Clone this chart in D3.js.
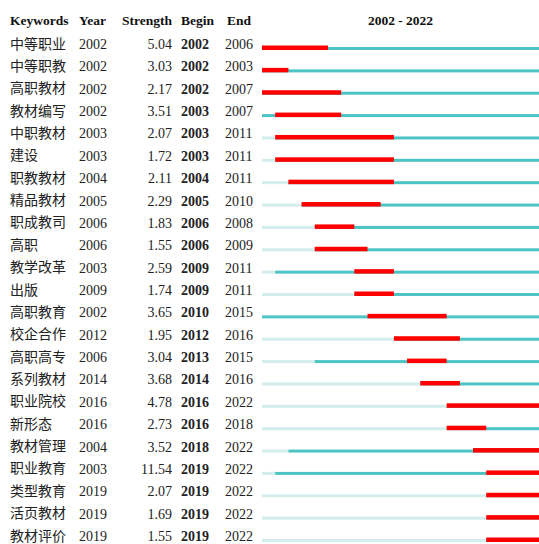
<!DOCTYPE html>
<html>
<head>
    <meta charset="utf-8">
    <style>
        body { margin: 0; background: #fff; }
        svg { display: block; }
        .hd { font-family: 'Liberation Serif', 'Times New Roman', serif; font-weight: bold; font-size: 13.5px; fill: #111; }
        .num { font-family: 'Liberation Serif', 'Times New Roman', serif; font-size: 14px; fill: #222; }
        .kw { font-family: 'Noto Sans CJK SC', sans-serif; font-size: 14px; fill: #222; }
    </style>
</head>
<body>
<svg width="539" height="544"></svg>

<script src="https://d3js.org/d3.v7.min.js"></script>
<script>
    // burst table
    let keywords = ["中等职业", "中等职教", "高职教材", "教材编写", "中职教材", "建设", "职教教材", "精品教材",
        "职成教司", "高职", "教学改革", "出版", "高职教育", "校企合作", "高职高专", "系列教材",
        "职业院校", "新形态", "教材管理", "职业教育", "类型教育", "活页教材", "教材评价"]
    let years = [2002, 2002, 2002, 2002, 2003, 2003, 2004, 2005, 2006, 2006, 2003, 2009,
        2002, 2012, 2006, 2014, 2016, 2016, 2004, 2003, 2019, 2019, 2019]
    let strengths = ["5.04", "3.03", "2.17", "3.51", "2.07", "1.72", "2.11", "2.29", "1.83", "1.55", "2.59", "1.74",
        "3.65", "1.95", "3.04", "3.68", "4.78", "2.73", "3.52", "11.54", "2.07", "1.69", "1.55"]
    let begins = [2002, 2002, 2002, 2003, 2003, 2003, 2004, 2005, 2006, 2006, 2009, 2009,
        2010, 2012, 2013, 2014, 2016, 2016, 2018, 2019, 2019, 2019, 2019]
    let ends = [2006, 2003, 2007, 2007, 2011, 2011, 2011, 2010, 2008, 2009, 2011, 2011,
        2015, 2016, 2015, 2016, 2022, 2018, 2022, 2022, 2022, 2022, 2022]
    let firstYear = 2002
    let lastYear = 2022

    let rows = keywords.map((k, i) => ({
        keyword: k, year: years[i], strength: strengths[i], begin: begins[i], end: ends[i]
    }))

    let svg = d3.select("svg")

    let x = d3.scaleLinear()
        .domain([firstYear, lastYear + 1])
        .range([262, 539])

    let y = d3.scalePoint()
        .domain(d3.range(rows.length))
        .range([44, 536])

    // header
    svg.append("text").attr("class", "hd").attr("x", 10).attr("y", 25).text("Keywords")
    svg.append("text").attr("class", "hd").attr("x", 79).attr("y", 25).text("Year")
    svg.append("text").attr("class", "hd").attr("x", 172).attr("y", 25).attr("text-anchor", "end").text("Strength")
    svg.append("text").attr("class", "hd").attr("x", 181).attr("y", 25).text("Begin")
    svg.append("text").attr("class", "hd").attr("x", 227).attr("y", 25).text("End")
    svg.append("text").attr("class", "hd")
        .attr("x", (x(firstYear) + x(lastYear + 1)) / 2).attr("y", 25)
        .attr("text-anchor", "middle")
        .text(firstYear + " - " + lastYear)

    let g = svg.selectAll(".row")
        .data(rows)
        .join("g")
        .attr("class", "row")
        .attr("transform", (d, i) => "translate(0," + y(i) + ")")

    g.append("text").attr("class", "kw").attr("x", 10).attr("y", 4.5).text(d => d.keyword)
    g.append("text").attr("class", "num").attr("x", 79).attr("y", 5).text(d => d.year)
    g.append("text").attr("class", "num").attr("x", 172).attr("y", 5).attr("text-anchor", "end").text(d => d.strength)
    g.append("text").attr("class", "num").attr("x", 181).attr("y", 5).style("font-weight", "bold").text(d => d.begin)
    g.append("text").attr("class", "num").attr("x", 225).attr("y", 5).text(d => d.end)

    // before the keyword appears
    g.append("rect")
        .attr("x", x(firstYear))
        .attr("y", 3)
        .attr("width", d => x(d.year) - x(firstYear))
        .attr("height", 3)
        .style("fill", "#d3eded")

    // after the keyword appears
    g.append("rect")
        .attr("x", d => x(d.year))
        .attr("y", 3)
        .attr("width", d => x(lastYear + 1) - x(d.year))
        .attr("height", 3)
        .style("fill", "#4cc4c4")

    // burst
    g.append("rect")
        .attr("x", d => x(d.begin))
        .attr("y", 1.5)
        .attr("width", d => x(d.end + 1) - x(d.begin))
        .attr("height", 4.5)
        .style("fill", "#ff0000")
</script>
</body>
</html>
